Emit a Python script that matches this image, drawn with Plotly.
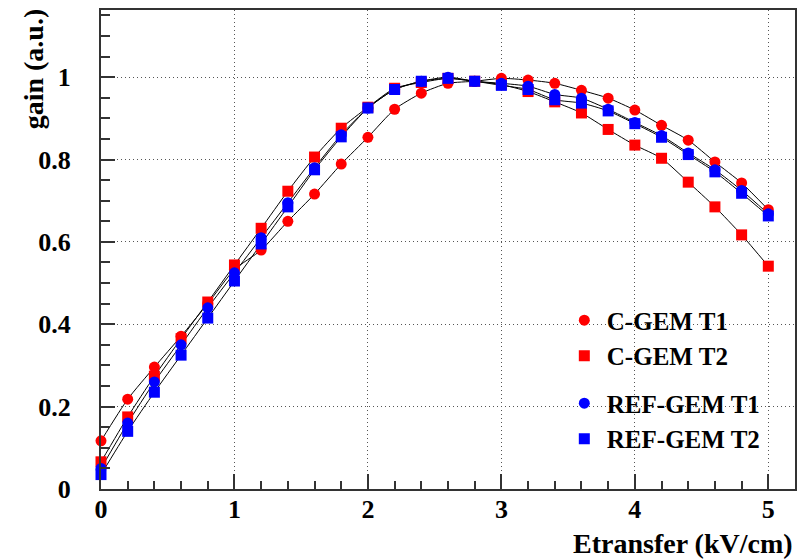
import plotly.graph_objects as go

x_vals = [0.0, 0.2, 0.4, 0.6, 0.8, 1.0, 1.2, 1.4, 1.6, 1.8, 2.0, 2.2, 2.4,
          2.6, 2.8, 3.0, 3.2, 3.4, 3.6, 3.8, 4.0, 4.2, 4.4, 4.6, 4.8, 5.0]

cgem_t1 = [0.117, 0.218, 0.296, 0.371, 0.450, 0.533, 0.580, 0.650, 0.716, 0.789,
           0.854, 0.922, 0.961, 0.985, 0.990, 0.997, 0.993, 0.985, 0.968, 0.949,
           0.920, 0.883, 0.847, 0.794, 0.743, 0.678]
cgem_t2 = [0.066, 0.175, 0.274, 0.365, 0.454, 0.544, 0.633, 0.723, 0.806, 0.876,
           0.927, 0.973, 0.987, 0.997, 0.990, 0.982, 0.965, 0.940, 0.913, 0.873,
           0.835, 0.803, 0.745, 0.685, 0.617, 0.541]
ref_t1 = [0.050, 0.160, 0.260, 0.350, 0.440, 0.525, 0.610, 0.695, 0.780, 0.860,
          0.925, 0.970, 0.990, 1.000, 0.990, 0.985, 0.978, 0.958, 0.949, 0.922,
          0.890, 0.858, 0.816, 0.775, 0.725, 0.668]
ref_t2 = [0.035, 0.140, 0.235, 0.325, 0.415, 0.505, 0.595, 0.685, 0.775, 0.855,
          0.925, 0.970, 0.990, 0.997, 0.990, 0.980, 0.970, 0.945, 0.937, 0.918,
          0.887, 0.854, 0.812, 0.770, 0.718, 0.663]

series = [
    ("C-GEM T1", cgem_t1, "#ff0000", "circle", "cgem"),
    ("C-GEM T2", cgem_t2, "#ff0000", "square", "cgem"),
    ("REF-GEM T1", ref_t1, "#0000ff", "circle", "ref"),
    ("REF-GEM T2", ref_t2, "#0000ff", "square", "ref"),
]

FONT = "Liberation Serif"

fig = go.Figure()

for name, ys, col, sym, grp in series:
    fig.add_trace(go.Scatter(
        x=x_vals, y=ys, mode="lines", showlegend=False, hoverinfo="skip",
        line=dict(color="black", width=1, shape="spline", smoothing=0.6),
    ))

for name, ys, col, sym, grp in series:
    fig.add_trace(go.Scatter(
        x=x_vals, y=ys, mode="markers", name=name, legendgroup=grp,
        marker=dict(color=col, symbol=sym, size=11, line=dict(width=0)),
        cliponaxis=False,
    ))

axis_common = dict(
    showline=True, linecolor="#333333", linewidth=2, mirror=True,
    ticks="inside", tickcolor="#333333", tickwidth=1.5,
    showgrid=True, gridcolor="#555555", gridwidth=1, griddash="1px,3px",
    zeroline=False,
    tickfont=dict(family=FONT, size=26, color="black", weight="bold"),
)

fig.update_xaxes(
    range=[0, 5.2], tickvals=[0, 1, 2, 3, 4, 5], ticklen=15,
    minor=dict(dtick=0.2, tick0=0, ticks="inside", ticklen=8,
               tickcolor="#333333", tickwidth=1.5, showgrid=False),
    ticklabelstandoff=-4,
    **axis_common,
)
fig.update_yaxes(
    range=[0, 1.163], tickvals=[0, 0.2, 0.4, 0.6, 0.8, 1.0],
    ticktext=["0", "0.2", "0.4", "0.6", "0.8", "1"], ticklen=14,
    minor=dict(dtick=0.05, tick0=0, ticks="inside", ticklen=9,
               tickcolor="#333333", tickwidth=1.5, showgrid=False),
    ticklabelstandoff=23,
    **axis_common,
)

fig.add_annotation(
    text="Etransfer (kV/cm)", xref="paper", yref="paper", x=1.0, y=-0.113,
    xanchor="right", yanchor="middle", showarrow=False,
    font=dict(family=FONT, size=28, color="black", weight="bold"),
)
fig.add_annotation(
    text="gain (a.u.)", xref="paper", yref="paper", x=-0.097, y=1.008,
    xanchor="center", yanchor="top", textangle=-90, showarrow=False,
    font=dict(family=FONT, size=28, color="black", weight="bold"),
)

fig.update_layout(
    width=805, height=559,
    margin=dict(l=101, r=8, t=10, b=70),
    paper_bgcolor="white", plot_bgcolor="white",
    showlegend=True,
    legend=dict(
        x=0.664, y=0.40, xanchor="left", yanchor="top",
        bgcolor="rgba(0,0,0,0)", borderwidth=0,
        font=dict(family=FONT, size=25, color="black", weight="bold"),
        traceorder="grouped", tracegroupgap=12, itemwidth=35,
    ),
)

fig.write_html("out.html")
